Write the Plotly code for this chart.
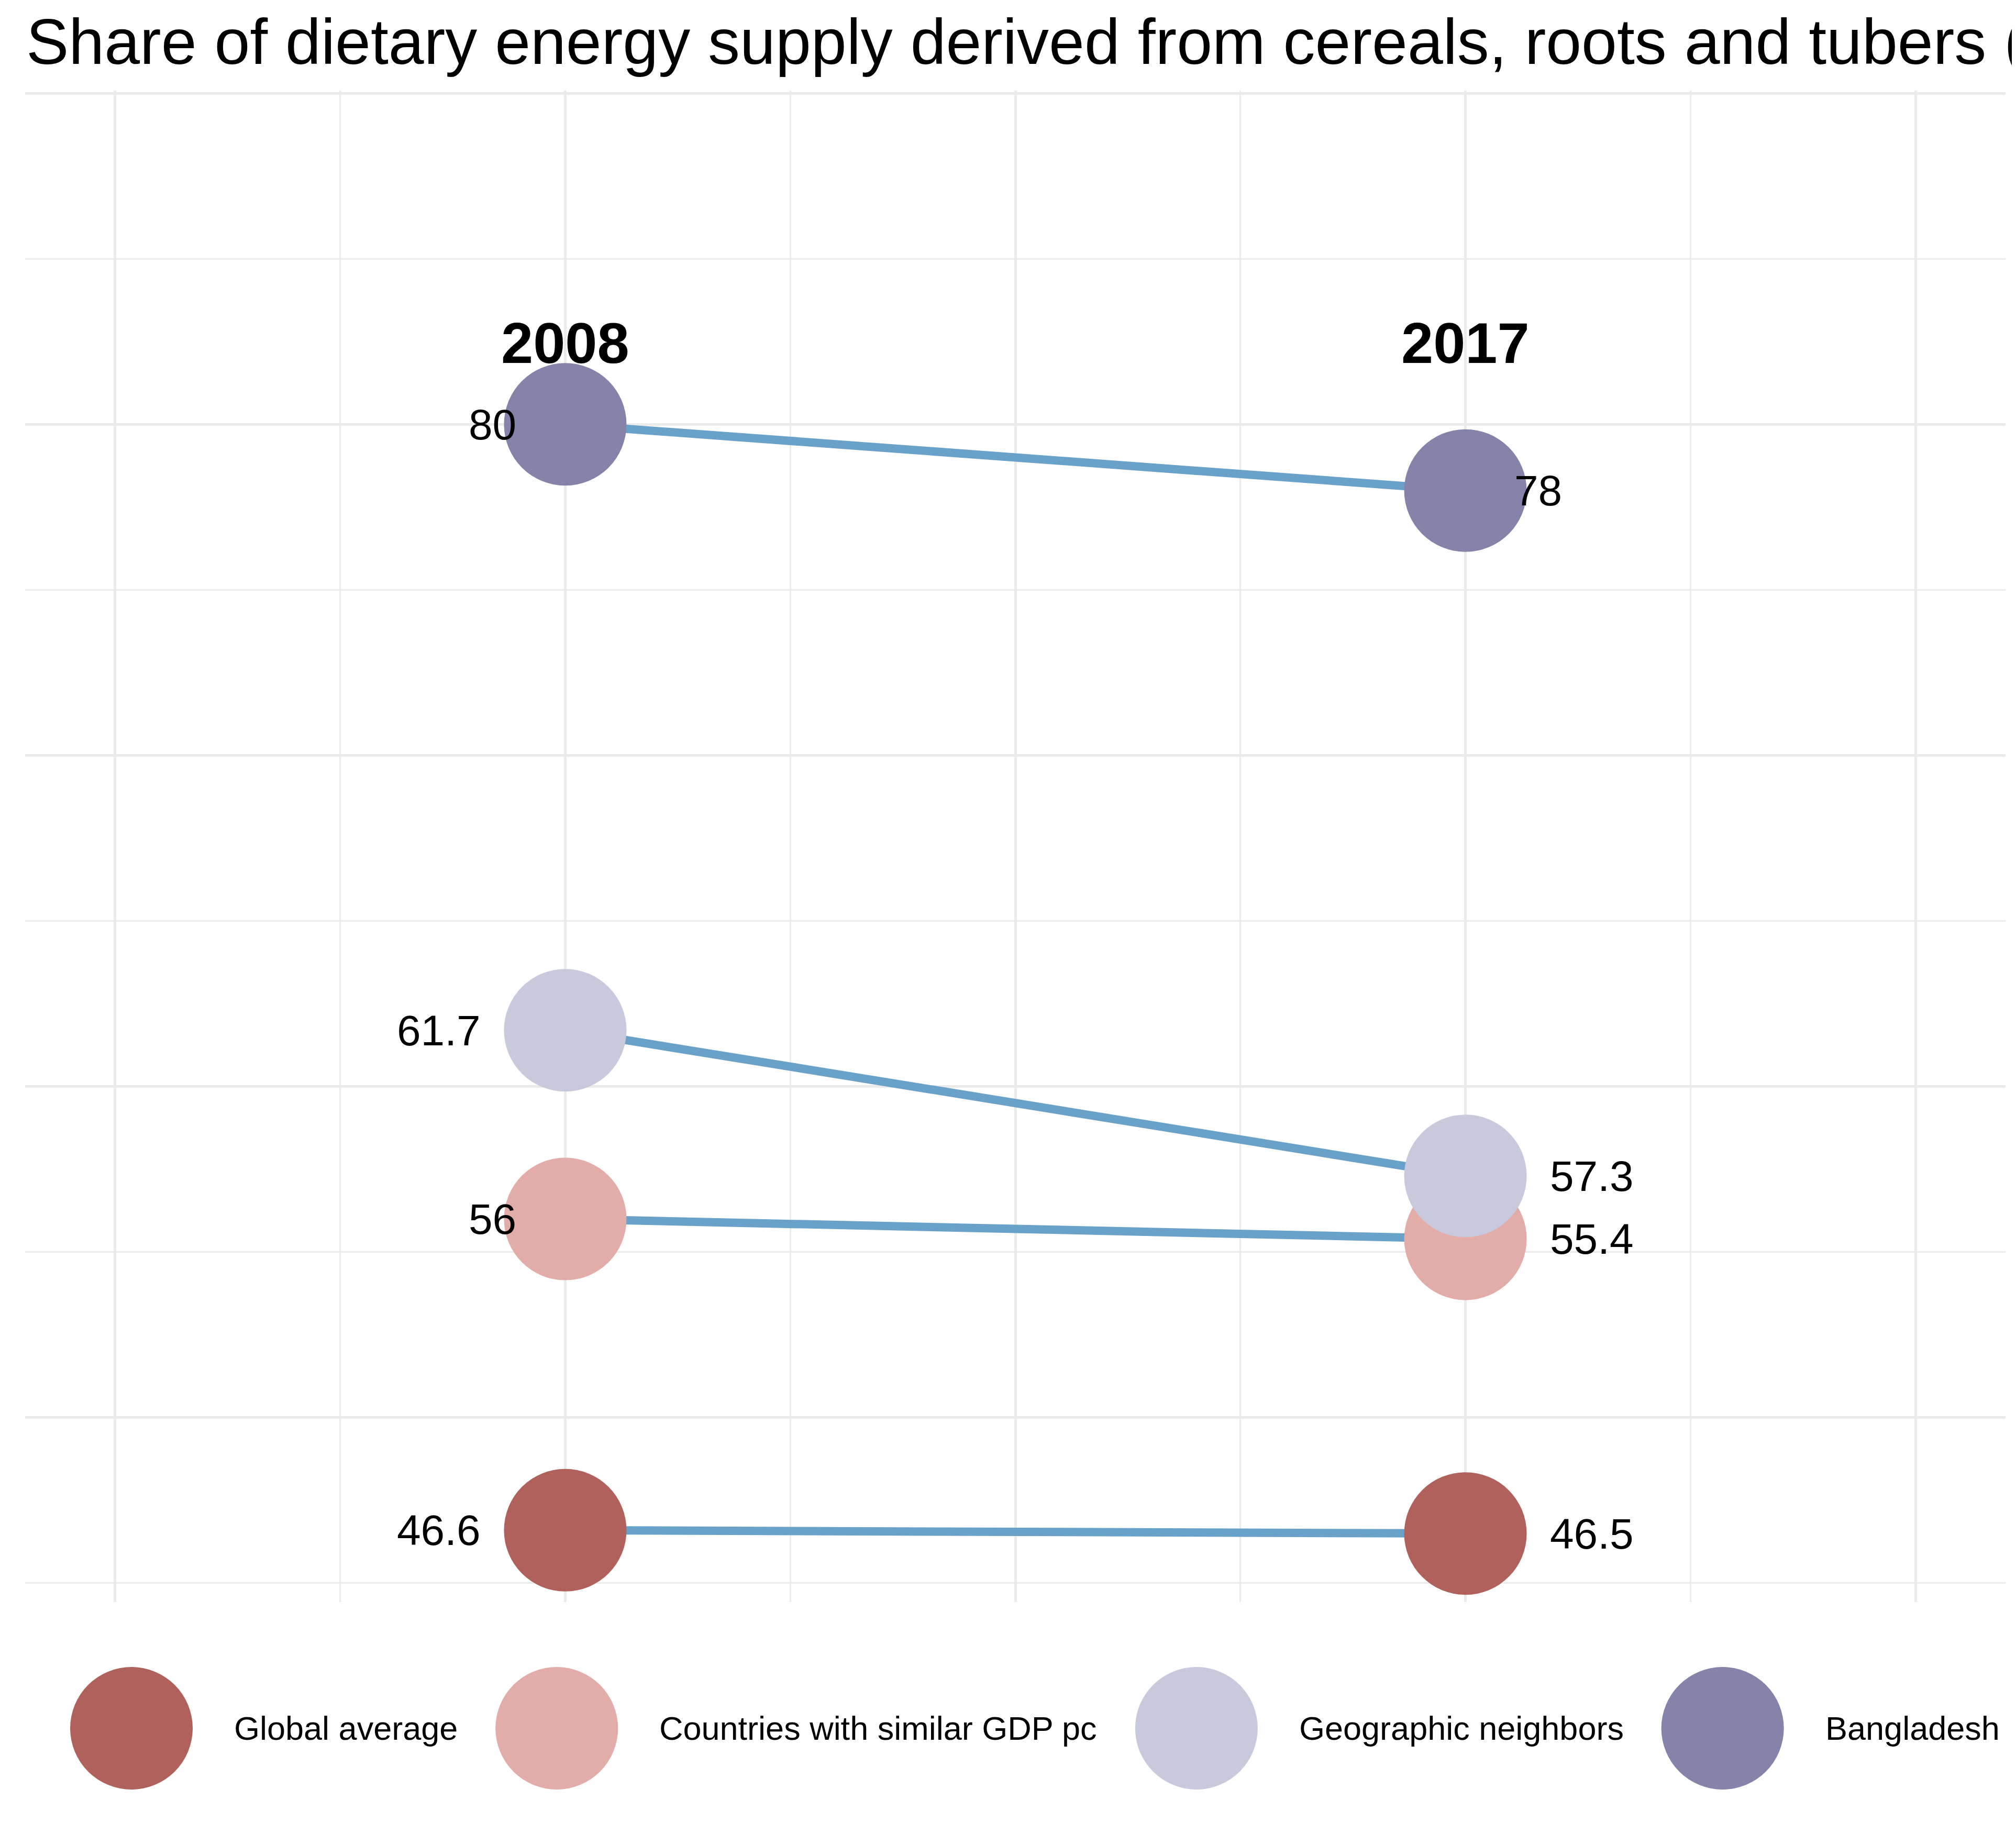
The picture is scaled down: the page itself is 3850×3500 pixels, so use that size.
import plotly.graph_objects as go

# ---------------- data ----------------
years = ["2008", "2017"]
groups = ["Global average", "Countries with similar GDP pc", "Geographic neighbors", "Bangladesh"]
values_2008 = [46.6, 56.0, 61.7, 80.0]
values_2017 = [46.5, 55.4, 57.3, 78.0]
labels_2008 = ["46.6", "56", "61.7", "80"]
labels_2017 = ["46.5", "55.4", "57.3", "78"]
colors = ["#b0615b", "#e2aca8", "#c8c9dd", "#8583a9"]
title_text = "Share of dietary energy supply derived from cereals, roots and tubers (%)"

# ---------------- style / layout constants ----------------
W, H = 3850, 3500
M_L, M_R, M_T, M_B = 40, 28, 165, 0
PANEL_BOTTOM_PX = 3051
FONT = "Liberation Sans, Arial, Helvetica, sans-serif"
LINE_COLOR = "#69a1c8"
GRID = "#ebebeb"
MARKER_SIZE = 234
VALUE_FONT = 82
YEAR_FONT = 110
LEGEND_FONT = 63
TITLE_FONT = 122

# Arial / Liberation Sans advance widths (em)
ARIAL = {c: 0.556 for c in "0123456789"}
ARIAL.update({".": 0.278, " ": 0.278, "a": 0.556, "b": 0.556, "c": 0.5, "d": 0.556,
              "e": 0.556, "g": 0.556, "h": 0.556, "i": 0.222, "l": 0.222, "m": 0.833,
              "n": 0.556, "o": 0.556, "p": 0.556, "r": 0.333, "s": 0.5, "t": 0.278,
              "u": 0.556, "v": 0.5, "w": 0.722, "B": 0.667, "C": 0.722, "D": 0.722,
              "G": 0.778, "P": 0.667})


def text_w(s, size):
    return sum(ARIAL.get(c, 0.556) for c in s) * size


x_pos = [i + 1 for i in range(len(years))]
plot_h = H - M_T - M_B
main_bottom = (H - PANEL_BOTTOM_PX) / plot_h

fig = go.Figure()

# connecting lines
for g, a, b in zip(groups, values_2008, values_2017):
    fig.add_trace(go.Scatter(x=x_pos, y=[a, b], mode="lines",
                             line=dict(color=LINE_COLOR, width=16),
                             hoverinfo="skip", showlegend=False))
# points
for g, a, b, c in zip(groups, values_2008, values_2017, colors):
    fig.add_trace(go.Scatter(x=x_pos, y=[a, b], mode="markers", name=g,
                             marker=dict(size=MARKER_SIZE, color=c, line=dict(width=0)),
                             showlegend=False))

annotations = []
# value labels
for vals, labs, xp, side in [(values_2008, labels_2008, x_pos[0], -1),
                             (values_2017, labels_2017, x_pos[1], 1)]:
    for v, lab in zip(vals, labs):
        w = text_w(lab, VALUE_FONT)
        annotations.append(dict(x=xp, y=v, xref="x", yref="y", text=lab, showarrow=False,
                                xanchor="right" if side < 0 else "left", yanchor="middle",
                                xshift=side * w, font=dict(family=FONT, size=VALUE_FONT, color="black")))
# year labels
year_y = max(values_2008 + values_2017) + 2.47
for yr, xp in zip(years, x_pos):
    annotations.append(dict(x=xp, y=year_y, xref="x", yref="y", text="<b>%s</b>" % yr,
                            showarrow=False, xanchor="center", yanchor="middle",
                            font=dict(family=FONT, size=YEAR_FONT, color="black")))

# legend (manual, large symbols)
leg_x = []
cur = 243
for g in groups:
    leg_x.append(cur)
    cur = cur + 194 + text_w(g, LEGEND_FONT) + 191
LEG_Y = 3292
fig.add_trace(go.Scatter(x=leg_x, y=[LEG_Y] * len(groups), xaxis="x2", yaxis="y2",
                         mode="markers", marker=dict(size=MARKER_SIZE, color=colors, line=dict(width=0)),
                         hoverinfo="skip", showlegend=False, cliponaxis=False))
for g, lx in zip(groups, leg_x):
    annotations.append(dict(x=lx + 194, y=LEG_Y, xref="x2", yref="y2", text=g, showarrow=False,
                            xanchor="left", yanchor="middle",
                            font=dict(family=FONT, size=LEGEND_FONT, color="black")))

fig.update_layout(
    width=W, height=H,
    margin=dict(l=M_L, r=M_R, t=M_T, b=M_B, pad=0),
    paper_bgcolor="white", plot_bgcolor="white",
    showlegend=False,
    title=dict(text=title_text, x=42 / W, xref="container", xanchor="left",
               y=1 - 71 / H, yref="container", yanchor="middle",
               font=dict(family=FONT, size=TITLE_FONT, color="black")),
    xaxis=dict(range=[0.4, 2.6], tick0=0, dtick=0.5, showgrid=True, gridcolor=GRID, gridwidth=5,
               minor=dict(tick0=0, dtick=0.25, showgrid=True, gridcolor=GRID, gridwidth=2.5),
               showticklabels=False, zeroline=False, showline=False, ticks="", domain=[0, 1]),
    yaxis=dict(range=[44.43, 90.08], tick0=0, dtick=10, showgrid=True, gridcolor=GRID, gridwidth=5,
               minor=dict(tick0=0, dtick=5, showgrid=True, gridcolor=GRID, gridwidth=2.5),
               showticklabels=False, zeroline=False, showline=False, ticks="",
               domain=[main_bottom, 1]),
    xaxis2=dict(range=[M_L, W - M_R], domain=[0, 1], anchor="y2", visible=False, showgrid=False),
    yaxis2=dict(range=[H, PANEL_BOTTOM_PX], domain=[0, main_bottom], anchor="x2",
                visible=False, showgrid=False),
    annotations=annotations,
    font=dict(family=FONT, color="black"),
)

fig.write_html("out.html")
